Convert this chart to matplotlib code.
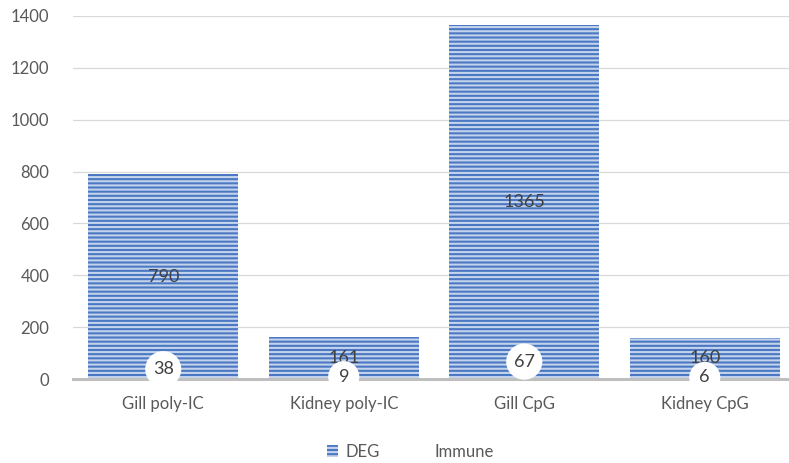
import numpy as np
import matplotlib.pyplot as plt
from matplotlib.patches import Patch

categories = ["Gill poly-IC", "Kidney poly-IC", "Gill CpG", "Kidney CpG"]
deg = [790, 161, 1365, 160]
immune = [38, 9, 67, 6]
yticks = [0, 200, 400, 600, 800, 1000, 1200, 1400]

plt.rcParams['font.family'] = ['Lato', 'DejaVu Sans']
plt.rcParams['hatch.linewidth'] = 1.5

W, H = 789, 463
fig = plt.figure(figsize=(W / 100, H / 100), dpi=100)
left, right, bottom, top = 73, 795, 379, 16
ax = fig.add_axes([left / W, (H - bottom) / H, (right - left) / W, (bottom - top) / H])

x = np.arange(len(categories))
width = 0.83
blue, stripe = '#4a78c2', '#c3d3ec'

ax.bar(x, deg, width, color=blue, edgecolor=stripe, hatch='----', linewidth=0, zorder=2)
# DEG counts sit in the middle of each bar
for xi, v in zip(x, deg):
    ax.text(xi, v / 2, str(v), ha='center', va='center', fontsize=13,
            color='#404040', zorder=4)

# immune subset: invisible bars, value shown in a white bubble at the bar end
ax.bar(x, immune, width, color='none', linewidth=0, zorder=3)
for xi, v in zip(x, immune):
    ax.text(xi, v, str(v), ha='center', va='center', fontsize=13,
            color='#404040', zorder=8,
            bbox=dict(boxstyle='circle,pad=0.42', fc='white', ec='none'))

ax.set_xlim(-0.5, len(categories) - 0.5)
ax.set_ylim(0, 1400)
ax.set_yticks(yticks)
ax.set_xticks(x)
ax.set_xticklabels(categories)
ax.yaxis.grid(True, color='#d9d9d9', linewidth=0.9, zorder=0)
ax.set_axisbelow(True)
for s in ['top', 'right', 'left']:
    ax.spines[s].set_visible(False)
ax.spines['bottom'].set_color('#bfbfbf')
ax.spines['bottom'].set_linewidth(2.2)
ax.spines['bottom'].set_zorder(6)
ax.tick_params(axis='both', length=0, labelsize=12, labelcolor='#595959')
ax.tick_params(axis='y', pad=17)
ax.tick_params(axis='x', pad=12)

handles = [Patch(facecolor=blue, edgecolor=stripe, hatch='----', linewidth=0),
           Patch(facecolor='white', edgecolor='none')]
fig.legend(handles, ['DEG', 'Immune'], loc='center', bbox_to_anchor=(0.52, 1 - 452 / H),
           ncol=2, frameon=False, fontsize=12, labelcolor='#595959',
           handlelength=0.7, handleheight=0.7, handletextpad=0.4, columnspacing=2.2)

fig.savefig('out.png', dpi=100)
